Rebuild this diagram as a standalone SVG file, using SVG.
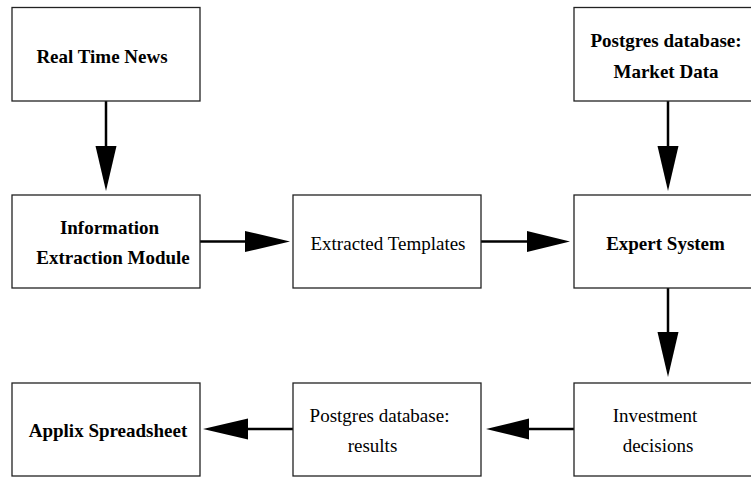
<svg xmlns="http://www.w3.org/2000/svg" width="751" height="477" viewBox="0 0 751 477">
<style>
.box{fill:#fff;stroke:#222;stroke-width:1.3}
.t{font-family:"Liberation Serif","Times New Roman",serif;font-size:19px;fill:#000;text-anchor:middle}
.b{font-weight:bold}
.ln{stroke:#000;stroke-width:2.5;fill:none}
.hd{fill:#000}
</style>
<rect width="751" height="477" fill="#fff"/>
<g id="connectors">
<line class="ln" x1="106" y1="101" x2="106" y2="150"/>
<polygon class="hd" points="95.5,146 116.5,146 106,191"/>
<line class="ln" x1="668" y1="101" x2="668" y2="150"/>
<polygon class="hd" points="657.5,146 678.5,146 668,191"/>
<line class="ln" x1="668" y1="288" x2="668" y2="336"/>
<polygon class="hd" points="657.5,332 678.5,332 668,377"/>
<line class="ln" x1="200" y1="241.5" x2="250" y2="241.5"/>
<polygon class="hd" points="245,231 245,252 290,241.5"/>
<line class="ln" x1="481" y1="241.5" x2="531" y2="241.5"/>
<polygon class="hd" points="527,231 527,252 570,241.5"/>
<line class="ln" x1="574" y1="429" x2="525" y2="429"/>
<polygon class="hd" points="529,418.5 529,439.5 486,429"/>
<line class="ln" x1="293" y1="429" x2="244" y2="429"/>
<polygon class="hd" points="248,418.5 248,439.5 203,429"/>
</g>
<g id="real-time-news">
<rect class="box" x="12" y="7.5" width="188" height="93.5"/>
<text class="t b" x="102" y="63">Real Time News</text>
</g>
<g id="postgres-market">
<rect class="box" x="574" y="7.5" width="188" height="93.5"/>
<text class="t b" x="666" y="46.5">Postgres database:</text>
<text class="t b" x="666" y="77.5">Market Data</text>
</g>
<g id="info-extraction">
<rect class="box" x="12" y="195" width="188" height="93"/>
<text class="t b" x="109.5" y="234">Information</text>
<text class="t b" x="113" y="264">Extraction Module</text>
</g>
<g id="extracted-templates">
<rect class="box" x="293" y="195" width="188" height="93"/>
<text class="t" x="388" y="250">Extracted Templates</text>
</g>
<g id="expert-system">
<rect class="box" x="574" y="195" width="188" height="93"/>
<text class="t b" x="665.5" y="250">Expert System</text>
</g>
<g id="applix">
<rect class="box" x="12" y="383" width="188" height="93"/>
<text class="t b" x="108" y="436.5">Applix Spreadsheet</text>
</g>
<g id="postgres-results">
<rect class="box" x="293" y="383" width="188" height="93"/>
<text class="t" x="379.5" y="421.5">Postgres database:</text>
<text class="t" x="372.5" y="451.5">results</text>
</g>
<g id="investment">
<rect class="box" x="574" y="383" width="188" height="93"/>
<text class="t" x="655" y="421.5">Investment</text>
<text class="t" x="658" y="451.5">decisions</text>
</g>
</svg>
